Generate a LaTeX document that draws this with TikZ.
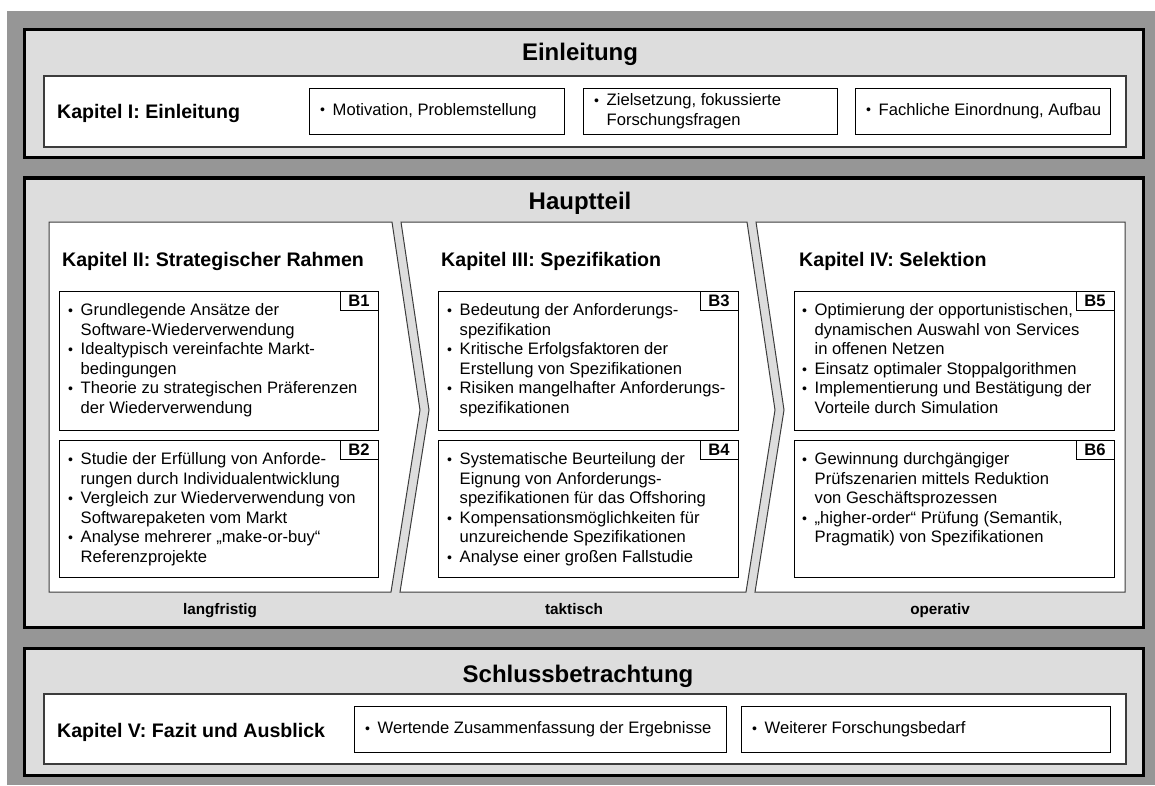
\documentclass[tikz,border=0pt]{standalone}
\usepackage{fontspec}
\setmainfont{Liberation Sans}

% fonts
\newcommand\titlefont{\fontsize{24}{28}\selectfont\bfseries}
\newcommand\chapfont{\fontsize{19.6}{22}\selectfont\bfseries}
\newcommand\bodyfont{\fontsize{16.6}{19.5}\selectfont}
\newcommand\tagfont{\fontsize{16.6}{19.5}\selectfont\bfseries}
\newcommand\labelfont{\fontsize{15.3}{18}\selectfont\bfseries}

% bullet item and continuation line
\newcommand\bitem{\makebox[12.5pt][l]{\raisebox{0.3pt}{\scalebox{0.85}{\textbullet}}}}
\newcommand\bcont{\hspace*{12.5pt}}

% rectangle node from corner (x1,y1) to corner (x2,y2), measured on the line centre
\newcommand\layoutbox[6]{%
  \node[#2, anchor=north west, outer sep=0pt, inner sep=0pt,
        minimum width={(#5)-(#3)}, minimum height={(#6)-(#4)}] (#1) at (#3,#4) {};}

\definecolor{backgray}{RGB}{150,150,150}
\definecolor{secgray}{RGB}{221,221,221}
\definecolor{edgegray}{RGB}{60,60,60}

\begin{document}
\begin{tikzpicture}[x=1pt, y=-1pt,
  section/.style={draw=black, line width=3.3pt, fill=secgray},
  band/.style={draw=edgegray, line width=1.3pt, fill=white},
  item/.style={draw=black, line width=1pt, fill=white},
  panel/.style={draw=edgegray, line width=1pt, fill=white, line join=miter},
  tagbox/.style={draw=black, line width=1pt, fill=white, font=\tagfont},
  title/.style={anchor=base, inner sep=0pt, font=\titlefont},
  chapter/.style={anchor=base west, inner sep=0pt, font=\chapfont},
  bodytext/.style={anchor=north west, inner sep=0pt, align=left, font=\bodyfont},
  itemtext/.style={anchor=west, inner sep=0pt, align=left, font=\bodyfont},
  horizon/.style={anchor=base, inner sep=0pt, font=\labelfont}
]
\useasboundingbox (0,0) rectangle (1155,785);
\fill[white] (0,0) rectangle (1155,785);
\fill[backgray] (7,11) rectangle (1155,785);

% ---------------- Einleitung ----------------
\layoutbox{secA}{section}{24.7}{29.7}{1143.5}{157.3}
\node[title] (titleA) at (580,60.5) {Einleitung};
\layoutbox{bandA}{band}{44}{76}{1126}{147}
\node[chapter] (kapI) at (57,118.3) {Kapitel I: Einleitung};
\layoutbox{eA}{item}{309}{88}{564}{134}
\layoutbox{eB}{item}{583}{88}{837}{134}
\layoutbox{eC}{item}{855}{88}{1110}{134}
\node[itemtext] (teA) at ([xshift=11pt]eA.west) {\bitem Motivation, Problemstellung};
\node[itemtext] (teB) at ([xshift=11pt]eB.west) {\bitem Zielsetzung, fokussierte\\ \bcont Forschungsfragen};
\node[itemtext] (teC) at ([xshift=11pt]eC.west) {\bitem Fachliche Einordnung, Aufbau};

% ---------------- Hauptteil ----------------
\layoutbox{secB}{section}{24.7}{178}{1143.5}{627.5}
\node[title] (titleB) at (580,209.5) {Hauptteil};

% three chevron panels
\coordinate (pAtl) at (49,222);   \coordinate (pAtr) at (392,222);
\coordinate (pAtip) at (420,410); \coordinate (pAbr) at (391,592);
\coordinate (pAbl) at (49,592);
\coordinate (pBtl) at (401,222);  \coordinate (pBtr) at (747,222);
\coordinate (pBtip) at (775,410); \coordinate (pBbr) at (746,592);
\coordinate (pBbl) at (400,592);  \coordinate (pBnotch) at (429,410);
\coordinate (pCtl) at (756,222);  \coordinate (pCtr) at (1125,222);
\coordinate (pCbr) at (1125,592); \coordinate (pCbl) at (755,592);
\coordinate (pCnotch) at (784,410);
\draw[panel] (pAtl) -- (pAtr) -- (pAtip) -- (pAbr) -- (pAbl) -- cycle;
\draw[panel] (pBtl) -- (pBtr) -- (pBtip) -- (pBbr) -- (pBbl) -- (pBnotch) -- cycle;
\draw[panel] (pCtl) -- (pCtr) -- (pCbr) -- (pCbl) -- (pCnotch) -- cycle;

\node[chapter] (kapII) at (62,266) {Kapitel II: Strategischer Rahmen};
\node[chapter] (kapIII) at (441,266) {Kapitel III: Spezifikation};
\node[chapter] (kapIV) at (799,266) {Kapitel IV: Selektion};

% building blocks B1 to B6
\layoutbox{bA}{item}{59}{291}{378}{430}
\layoutbox{bB}{item}{59}{440}{378}{577}
\layoutbox{bC}{item}{438}{291}{738}{430}
\layoutbox{bD}{item}{438}{440}{738}{577}
\layoutbox{bE}{item}{794}{291}{1114}{430}
\layoutbox{bF}{item}{794}{440}{1114}{577}

\foreach \b/\t in {bA/B1, bB/B2, bC/B3, bD/B4, bE/B5, bF/B6}{
  \node[tagbox, anchor=north east, outer sep=0pt, inner sep=0pt,
        minimum width=38, minimum height=19.5] (tag\t) at (\b.north east) {\t};
}

\node[bodytext] (tA) at ([shift={(9,11)}]bA.north west)
  {\strut\bitem Grundlegende Ansätze der\\ \bcont Software-Wiederverwendung\\
   \bitem Idealtypisch vereinfachte Markt-\\ \bcont bedingungen\\
   \bitem Theorie zu strategischen Präferenzen\\ \bcont der Wiederverwendung};
\node[bodytext] (tB) at ([shift={(9,11)}]bB.north west)
  {\strut\bitem Studie der Erfüllung von Anforde-\\ \bcont rungen durch Individualentwicklung\\
   \bitem Vergleich zur Wiederverwendung von\\ \bcont Softwarepaketen vom Markt\\
   \bitem Analyse mehrerer „make-or-buy“\\ \bcont Referenzprojekte};
\node[bodytext] (tC) at ([shift={(9,11)}]bC.north west)
  {\strut\bitem Bedeutung der Anforderungs-\\ \bcont spezifikation\\
   \bitem Kritische Erfolgsfaktoren der\\ \bcont Erstellung von Spezifikationen\\
   \bitem Risiken mangelhafter Anforderungs-\\ \bcont spezifikationen};
\node[bodytext] (tD) at ([shift={(9,11)}]bD.north west)
  {\strut\bitem Systematische Beurteilung der\\ \bcont Eignung von Anforderungs-\\
   \bcont spezifikationen für das Offshoring\\
   \bitem Kompensationsmöglichkeiten für\\ \bcont unzureichende Spezifikationen\\
   \bitem Analyse einer großen Fallstudie};
\node[bodytext] (tE) at ([shift={(8,11)}]bE.north west)
  {\strut\bitem Optimierung der opportunistischen,\\ \bcont dynamischen Auswahl von Services\\
   \bcont in offenen Netzen\\
   \bitem Einsatz optimaler Stoppalgorithmen\\
   \bitem Implementierung und Bestätigung der\\ \bcont Vorteile durch Simulation};
\node[bodytext] (tF) at ([shift={(8,11)}]bF.north west)
  {\strut\bitem Gewinnung durchgängiger\\ \bcont Prüfszenarien mittels Reduktion\\
   \bcont von Geschäftsprozessen\\
   \bitem „higher-order“ Prüfung (Semantik,\\ \bcont Pragmatik) von Spezifikationen};

\node[horizon] (hA) at (220,614) {langfristig};
\node[horizon] (hB) at (574,614) {taktisch};
\node[horizon] (hC) at (940,614) {operativ};

% ---------------- Schlussbetrachtung ----------------
\layoutbox{secC}{section}{24.7}{648.3}{1143.5}{775.5}
\node[title] (titleC) at (578,682.5) {Schlussbetrachtung};
\layoutbox{bandC}{band}{44}{694}{1126}{764}
\node[chapter] (kapV) at (57,737) {Kapitel V: Fazit und Ausblick};
\layoutbox{sA}{item}{354}{706}{726}{752}
\layoutbox{sB}{item}{741}{706}{1110}{752}
\node[itemtext] (tsA) at ([xshift=11pt]sA.west) {\bitem Wertende Zusammenfassung der Ergebnisse};
\node[itemtext] (tsB) at ([xshift=11pt]sB.west) {\bitem Weiterer Forschungsbedarf};
\end{tikzpicture}
\end{document}
